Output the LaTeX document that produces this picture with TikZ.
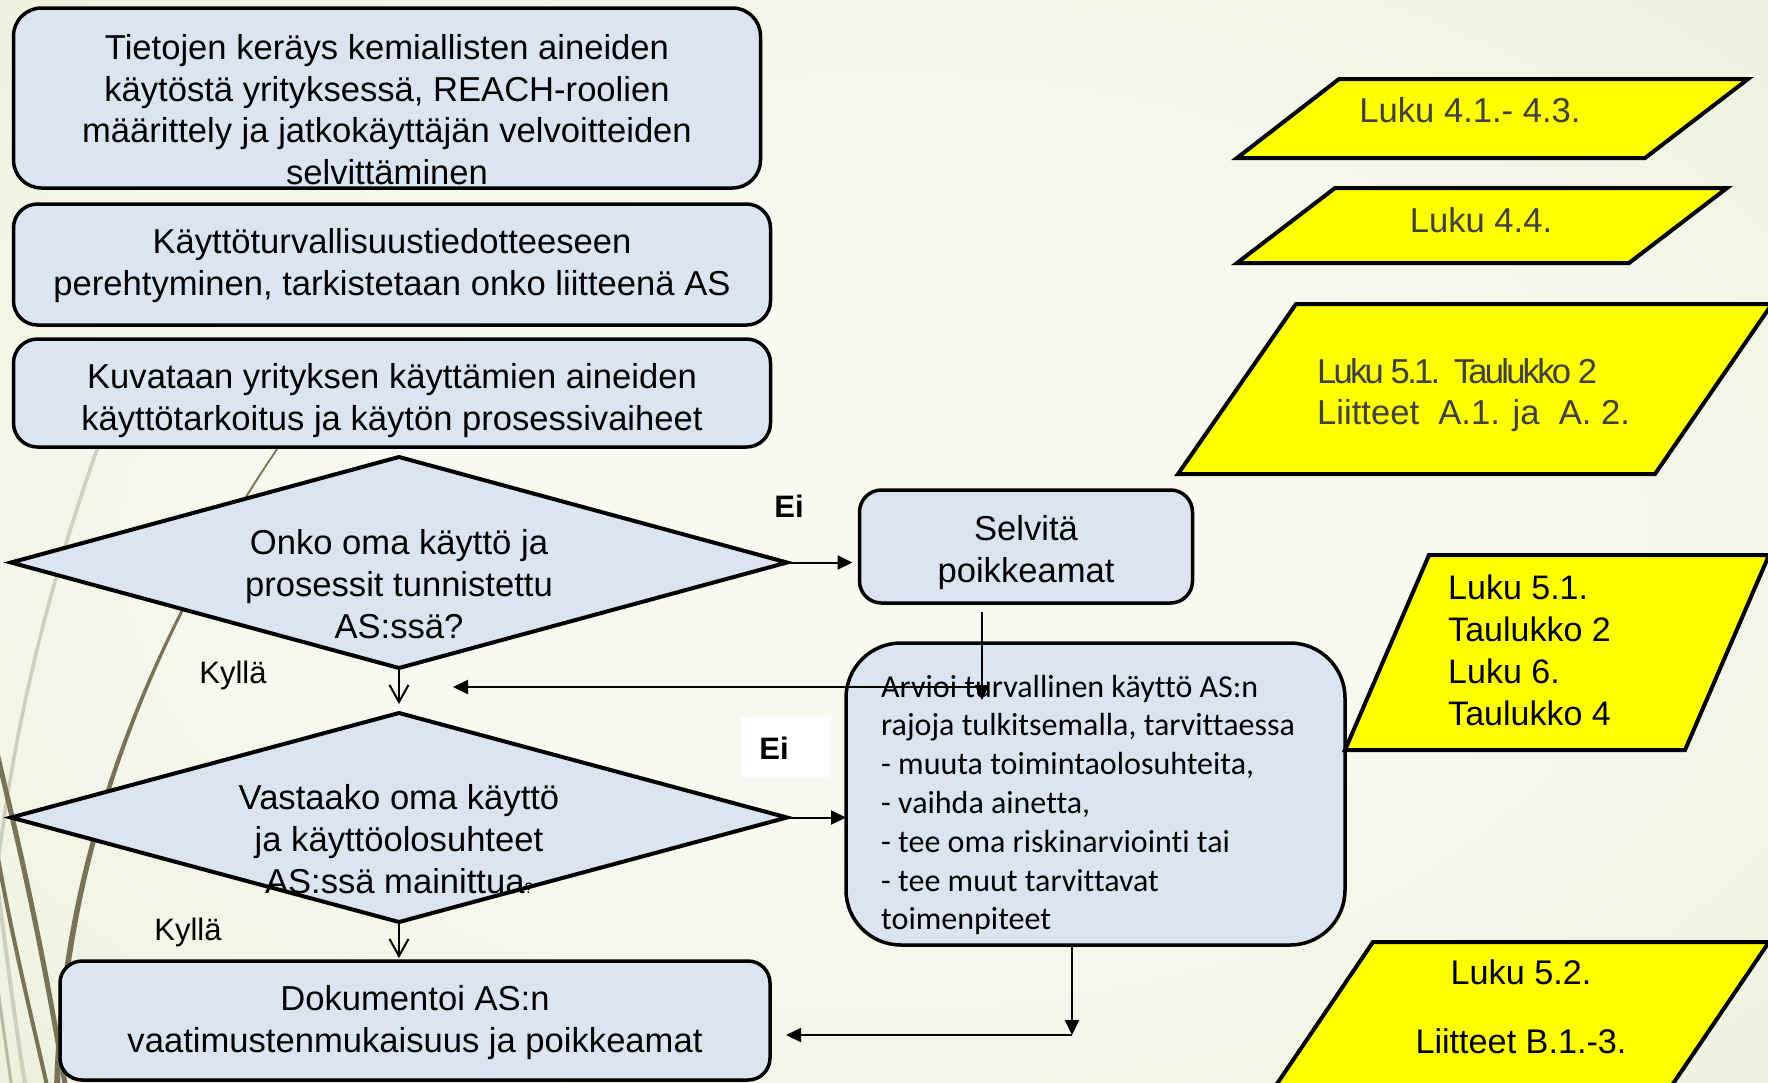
\documentclass[tikz,border=0pt]{standalone}
\usepackage{fontspec}
\setmainfont{Liberation Sans}
\newfontfamily\calibri[Ligatures=NoCommon]{Carlito}
\usetikzlibrary{shapes.geometric,arrows.meta}
\definecolor{boxfill}{RGB}{219,229,241}
\definecolor{bgin}{RGB}{248,249,241}
\definecolor{bgmid}{RGB}{240,243,226}
\definecolor{bgout}{RGB}{217,226,193}
\definecolor{grassdark}{RGB}{122,114,86}
\definecolor{grasslight}{RGB}{208,207,188}
\definecolor{ptext}{RGB}{64,64,64}
\definecolor{pyellow}{RGB}{255,255,0}
\pgfdeclareradialshading{bgshade}{\pgfpoint{0bp}{0bp}}{color(0bp)=(bgin); color(14bp)=(bgin); color(32bp)=(bgmid); color(50bp)=(bgout)}
\newcommand\mainsz{\fontsize{34.6}{41.7}\selectfont}
\newcommand\lblsz{\fontsize{31}{37}\selectfont}
\newcommand\arvsz{\calibri\fontsize{32}{38.8}\selectfont}
\tikzset{
  box/.style={draw=black, line width=3.5pt, fill=boxfill, rounded corners=24pt, inner sep=0pt, outer sep=0pt, align=center, font=\mainsz},
  dia/.style={draw=black, diamond, line width=4pt, fill=boxfill, inner sep=0pt, outer sep=0pt},
  txt/.style={align=center, inner sep=0pt, font=\mainsz},
  para/.style={draw=black, line width=4pt, fill=pyellow, line join=miter},
  lbl/.style={inner sep=0pt, font=\lblsz},
  conn/.style={draw=black, line width=2pt},
  tri/.style={-{Triangle[length=15pt,width=14pt]}},
  barb/.style={-{Straight Barb[length=17pt,width=19pt]}}
}
\begin{document}
\begin{tikzpicture}[x=1pt,y=-1pt]
\useasboundingbox (0,0) rectangle (1768,1082);
\clip (0,0) rectangle (1768,1082);
\shade[shading=bgshade] (0,0) rectangle (1768,1082);
% decorative grass strokes
\fill[grassdark] (289,430) .. controls (150,630) and (60,850) .. (54,1090) -- (60,1090) .. controls (66,850) and (153,630) .. (291,430) -- cycle;
\draw[grasslight, line width=3.5pt] (115,400) .. controls (55,560) and (12,720) .. (-6,900);
\draw[grassdark, line width=5pt] (-6,740) .. controls (15,830) and (38,920) .. (66,1090);
\draw[grassdark, line width=4pt] (-6,835) .. controls (10,930) and (30,1010) .. (48,1090);
\draw[grasslight, line width=4pt] (-6,860) .. controls (6,950) and (16,1030) .. (26,1090);
\draw[grasslight!75!grassdark, line width=3pt] (-6,960) .. controls (2,1020) and (8,1060) .. (12,1090);

% left column
\node[box, rounded corners=28pt, minimum width=747pt, minimum height=180pt] (b1) at (387,98) {};
\node[txt] (b1t) at (387,109.5) {Tietojen keräys kemiallisten aineiden\\käytöstä yrityksessä, REACH-roolien\\määrittely ja jatkokäyttäjän velvoitteiden\\selvittäminen};
\node[box, minimum width=757pt, minimum height=121pt] (b2) at (392,264.5) {};
\node[txt] (b2t) at (392,265.6) {Käyttöturvallisuustiedotteeseen\\perehtyminen, tarkistetaan onko liitteenä AS};
\node[box, minimum width=757pt, minimum height=108pt] (b3) at (392,393) {};
\node[txt] (b3t) at (392,400.5) {Kuvataan yrityksen käyttämien aineiden\\käyttötarkoitus ja käytön prosessivaiheet};
\node[dia, minimum width=776pt, minimum height=211pt] (d1) at (399,562.5) {};
\node[txt] (d1t) at (399,584) {Onko oma käyttö ja\\prosessit tunnistettu\\AS:ssä?};
\node[dia, minimum width=776pt, minimum height=209pt] (d2) at (399,817.5) {};
\node[txt] (d2t) at (399,839) {Vastaako oma käyttö\\ja käyttöolosuhteet\\AS:ssä mainittua{\fontsize{15}{15}\selectfont ?}};
\node[box, rounded corners=22pt, minimum width=710pt, minimum height=119pt] (dok) at (415,1020.5) {};
\node[txt] (dokt) at (415,1022.8) {Dokumentoi AS:n\\vaatimustenmukaisuus ja poikkeamat};

% middle column
\node[box, rounded corners=22pt, minimum width=333pt, minimum height=113pt] (sel) at (1026,546.5) {};
\node[txt] (selt) at (1026,552.2) {Selvitä\\poikkeamat};
\node[box, rounded corners=55pt, minimum width=499pt, minimum height=302pt] (arv) at (1095.5,794) {};
\node[anchor=west, align=left, inner sep=0pt, font=\arvsz] (arvt) at (881,805) {Arvioi turvallinen käyttö AS:n\\rajoja tulkitsemalla, tarvittaessa\\- muuta toimintaolosuhteita,\\- vaihda ainetta,\\- tee oma riskinarviointi tai\\- tee muut tarvittavat\\toimenpiteet};

% labels
\node[lbl, font=\lblsz\bfseries] (ei1) at (789,506) {Ei};
\node[fill=white, inner sep=0pt, minimum width=90pt, minimum height=60pt] (eibg) at (786,747) {};
\node[lbl, font=\lblsz\bfseries] (ei2) at (774,748) {Ei};
\node[lbl] (k1) at (233,675.5) {Kyllä};
\node[lbl] (k2) at (188,932.5) {Kyllä};

% reference parallelograms
\draw[para] (1339,79) -- (1748,79) -- (1645,158) -- (1237,158) -- cycle;
\node[txt, text=ptext] (p1t) at (1470,110) {Luku 4.1.- 4.3.};
\draw[para] (1335,188) -- (1727,188) -- (1629,263) -- (1237,263) -- cycle;
\node[txt, text=ptext] (p2t) at (1481,220) {Luku 4.4.};
\draw[para] (1296,304) -- (1772,304) -- (1655,474) -- (1178,474) -- cycle;
\node[txt, text=ptext, anchor=west, align=left] (p3t) at (1317,395) {{\addfontfeature{LetterSpace=-8}Luku 5.1.\ \ Taulukko 2}\\Liitteet\ \ A.1. ja\ \ A. 2.};
\draw[para] (1429,555) -- (1769,555) -- (1685,750) -- (1345,750) -- cycle;
\node[txt, anchor=west, align=left, font=\fontsize{34}{41.9}\selectfont] (p4t) at (1448,650) {Luku 5.1.\\Taulukko 2\\Luku 6.\\Taulukko 4};
\draw[para] (1373,942) -- (1769,942) -- (1662,1100) -- (1266,1100) -- cycle;
\node[txt, font=\fontsize{34.2}{41.7}\selectfont] (p5t) at (1521,1006.5) {Luku 5.2.\\[27pt]Liitteet B.1.-3.};

% connectors
\coordinate (j1) at (982,687);
\coordinate (s2) at (982,700);
\coordinate (j2) at (1072,1035);
\draw[conn, tri, shorten >=7pt] (d1.east) -- (d1.east -| sel.west);
\draw[conn, barb, shorten >=9pt] (d1.south) -- (d2.north);
\draw[conn, tri, shorten <=9pt] (sel.south -| s2) -- (s2);
\draw[conn, tri] (j1) -- ([xshift=54pt]d1.south |- j1);
\draw[conn, tri] (d2.east) -- (d2.east -| arv.west);
\draw[conn, barb, shorten >=3pt] (d2.south) -- (d2.south |- dok.north);
\draw[conn, tri] (arv.south -| j2) -- (j2);
\draw[conn, tri] (j2) -- ([xshift=16pt]dok.east |- j2);
\end{tikzpicture}
\end{document}
